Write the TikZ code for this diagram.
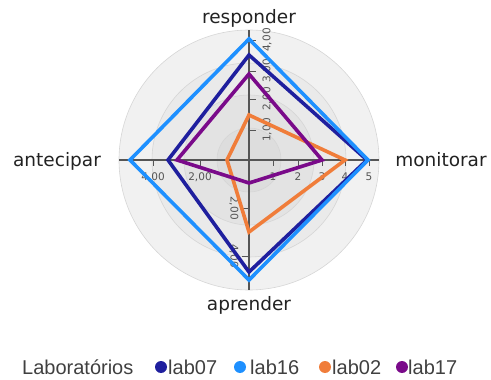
\documentclass[tikz,border=0pt]{standalone}
\usepackage{fontspec}
\setmainfont{DejaVu Sans}
\newfontfamily\legfont{Liberation Sans}
\definecolor{cLabA}{HTML}{1F1F9E}
\definecolor{cLabB}{HTML}{1E90FF}
\definecolor{cLabC}{HTML}{F07D3A}
\definecolor{cLabD}{HTML}{7A0A8A}
\definecolor{ringA}{HTML}{F1F1F1}
\definecolor{ringB}{HTML}{EAEAEA}
\definecolor{ringC}{HTML}{E3E3E3}
\definecolor{ringD}{HTML}{DDDDDD}
\definecolor{ringline}{HTML}{D6D6D6}
\definecolor{axisgray}{HTML}{555555}
\definecolor{labtext}{HTML}{222222}
\definecolor{legtext}{HTML}{404040}
\begin{document}
\begin{tikzpicture}[x=1pt,y=-1pt,
  ringfill/.style={fill=#1,draw=ringline,line width=0.6pt},
  axisline/.style={draw=axisgray,line width=1.1pt},
  tickmark/.style={draw=axisgray,line width=1pt},
  ticklabel/.style={text=axisgray,font=\fontsize{10.5}{12}\selectfont,inner sep=0pt},
  axislabel/.style={text=labtext,font=\fontsize{18.5}{20}\selectfont,inner sep=0pt},
  series/.style={draw=#1,line width=3.6pt,line join=miter},
  legdot/.style={circle,fill=#1,minimum size=12pt,inner sep=0pt},
  legitem/.style={text=legtext,font=\legfont\fontsize{20}{22}\selectfont,inner sep=0pt,anchor=base west}
]
\useasboundingbox (0,0) rectangle (491,380);
\coordinate (O) at (249,160);
% background rings
\path[ringfill=ringA] (O) circle[radius=130pt];
\path[ringfill=ringB] (O) circle[radius=97pt];
\path[ringfill=ringC] (O) circle[radius=65pt];
\path[ringfill=ringD] (O) circle[radius=32pt];
% axes
\coordinate (axL) at (119,160);
\coordinate (axR) at (379,160);
\coordinate (axT) at (249,30);
\coordinate (axB) at (249,290);
\draw[axisline] (axL) -- (axR);
\draw[axisline] (axT) -- (axB);
% right axis ticks (monitorar)
\foreach \x/\t in {273/1,298/2,322/3,345/4,369/5}{
  \draw[tickmark] (\x,159) -- (\x,166);
  \node[ticklabel] at (\x,176.5) {\t};
}
% left axis ticks (antecipar)
\foreach \x/\t in {153/{4,00},200/{2,00}}{
  \draw[tickmark] (\x,159) -- (\x,166);
  \node[ticklabel] at (\x,177) {\t};
}
% top axis ticks (responder)
\foreach \y/\t in {130/{1,00},99/{2,00},71/{3,00},40/{4,00}}{
  \draw[tickmark] (249,\y) -- (256,\y);
  \node[ticklabel,rotate=90] at (267,\y) {\t};
}
% bottom axis ticks (aprender)
\foreach \y/\t in {208/{2,00},256/{4,00}}{
  \draw[tickmark] (242,\y) -- (249,\y);
  \node[ticklabel,rotate=-90] at (234,\y) {\t};
}
% data points
\coordinate (aT) at (249,55);  \coordinate (aR) at (367,160);
\coordinate (aB) at (249,272); \coordinate (aL) at (168,160);
\coordinate (bT) at (249,39);  \coordinate (bR) at (368,160);
\coordinate (bB) at (249,280); \coordinate (bL) at (130,160);
\coordinate (cT) at (249,115); \coordinate (cR) at (345,160);
\coordinate (cB) at (249,232); \coordinate (cL) at (227,160);
\coordinate (dT) at (249,74);  \coordinate (dR) at (322,160);
\coordinate (dB) at (249,183); \coordinate (dL) at (177,160);
\draw[series=cLabA] (aT) -- (aR) -- (aB) -- (aL) -- cycle;
\draw[series=cLabB] (bT) -- (bR) -- (bB) -- (bL) -- cycle;
\draw[series=cLabC] (cT) -- (cR) -- (cB) -- (cL) -- cycle;
\draw[series=cLabD] (dT) -- (dR) -- (dB) -- (dL) -- cycle;
% axis labels
\node[axislabel] (lresp) at (249,18) {responder};
\node[axislabel] (lmon) at (441,160) {monitorar};
\node[axislabel] (lapr) at (249,305) {aprender};
\node[axislabel] (lant) at (57,161) {antecipar};
% legend
\node[legitem] (legt) at (22,374) {Laboratórios};
\node[legdot=cLabA] (d1) at (161,367) {};
\node[legitem] (t1) at (168,374) {lab07};
\node[legdot=cLabB] (d2) at (240,367) {};
\node[legitem] (t2) at (250,374) {lab16};
\node[legdot=cLabC] (d3) at (325,367) {};
\node[legitem] (t3) at (332,374) {lab02};
\node[legdot=cLabD] (d4) at (402,367) {};
\node[legitem] (t4) at (408,374) {lab17};
\end{tikzpicture}
\end{document}
